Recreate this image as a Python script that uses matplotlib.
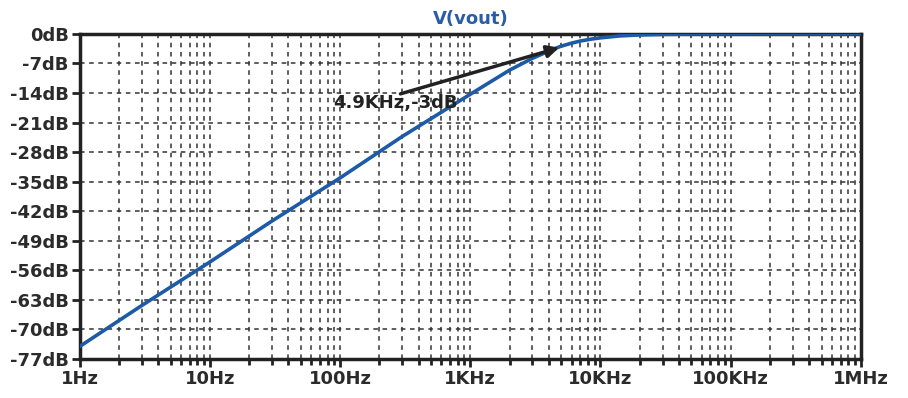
import matplotlib.pyplot as plt
from matplotlib.ticker import FixedLocator, NullFormatter

# Частотная характеристика V(vout)
freq_hz = [1, 3, 10, 30, 100, 300, 1000, 2000, 3000, 4000, 4900, 6000, 7000,
           8500, 10000, 14000, 20000, 30000, 50000, 100000, 1000000]
gain_db = [-74.0, -64.3, -54.0, -44.3, -34.1, -24.3, -14.3, -8.6, -5.8, -4.1,
           -3.0, -2.2, -1.7, -1.25, -0.95, -0.5, -0.26, -0.12, -0.04, -0.01, 0.0]

x_ticks = [1, 10, 100, 1000, 10000, 100000, 1000000]
x_labels = ["1Hz", "10Hz", "100Hz", "1KHz", "10KHz", "100KHz", "1MHz"]
y_ticks = [0, -7, -14, -21, -28, -35, -42, -49, -56, -63, -70, -77]
y_labels = [f"{v}dB" for v in y_ticks]

fig = plt.figure(figsize=(9.08, 3.98), dpi=100)
ax = fig.add_axes([0.088, 0.098, 0.860, 0.817])

ax.plot(freq_hz, gain_db, color="#1d5ba6", lw=2.6, zorder=3)

ax.set_xscale("log")
ax.set_xlim(1, 1e6)
ax.set_ylim(-77, 0)

ax.set_xticks(x_ticks)
ax.set_xticklabels(x_labels)
minors = [m * 10 ** d for d in range(6) for m in range(2, 10)]
ax.xaxis.set_minor_locator(FixedLocator(minors))
ax.xaxis.set_minor_formatter(NullFormatter())
ax.set_yticks(y_ticks)
ax.set_yticklabels(y_labels)

for lab in ax.get_xticklabels() + ax.get_yticklabels():
    lab.set_fontweight("bold")
    lab.set_fontsize(13)
    lab.set_color("#2b2b2b")

ax.tick_params(axis="both", which="major", direction="out", length=6, width=2, color="#222222", pad=2)
ax.tick_params(axis="x", which="minor", direction="out", length=4, width=2, color="#222222")

ax.grid(True, which="both", axis="x", color="#333333", ls=(0, (3, 3)), lw=1.1)
ax.grid(True, which="major", axis="y", color="#333333", ls=(0, (3, 3)), lw=1.1)

for s in ax.spines.values():
    s.set_linewidth(2.5)
    s.set_color("#222222")

ax.set_title("V(vout)", color="#2a5ca8", fontweight="bold", fontsize=13, pad=7)

# Подпись точки -3 дБ со стрелкой
ax.annotate("", xy=(5050, -3.1), xytext=(277, -14.4),
            arrowprops=dict(arrowstyle="-|>", color="#222222", lw=2.5, mutation_scale=18))
ax.text(88, -16.4, "4.9KHz,-3dB", fontsize=13, fontweight="bold", color="#222222",
        va="center", ha="left", zorder=4)

fig.savefig("out.png", dpi=100)
